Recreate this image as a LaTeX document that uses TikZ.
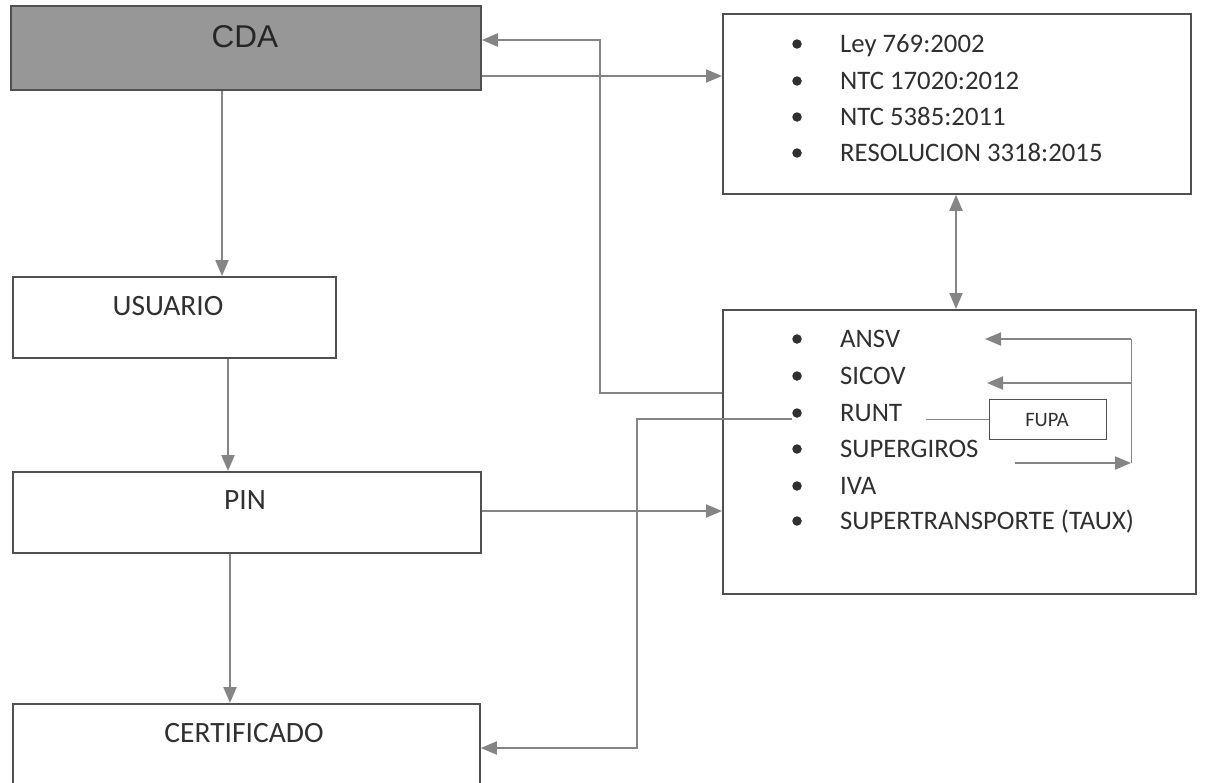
\documentclass[tikz,border=0pt]{standalone}
\usepackage{fontspec}
\setmainfont{Carlito}
\newfontfamily\arialf{Liberation Sans}
\usetikzlibrary{arrows.meta}
\definecolor{lineg}{HTML}{858585}
\definecolor{boxg}{HTML}{505050}
\definecolor{cdafill}{HTML}{979797}
\definecolor{txt}{HTML}{303030}
\tikzset{
  box/.style={draw=boxg, line width=1.8pt, rectangle, inner sep=0pt, anchor=north west},
  conn/.style={draw=lineg, line width=2pt, -{Triangle[length=16pt,width=13pt]}},
  biconn/.style={draw=lineg, line width=2pt, {Triangle[length=16pt,width=13pt]}-{Triangle[length=16pt,width=13pt]}},
  plainline/.style={draw=lineg, line width=2pt},
  thinline/.style={draw=lineg, line width=1pt},
  lbl/.style={font=\fontsize{29.5}{35}\selectfont, text=txt, inner sep=0pt},
  item/.style={font=\fontsize{26.7}{32}\selectfont, text=txt, inner sep=0pt, anchor=base west},
  bul/.style={circle, fill=txt, inner sep=0pt, minimum size=9.5pt},
}
\begin{document}
\begin{tikzpicture}[x=1pt,y=-1pt]
\useasboundingbox (0,0) rectangle (1225,782);
\clip (0,0) rectangle (1225,782);
\fill[white] (0,0) rectangle (1225,782);

% boxes
\node[box, fill=cdafill, minimum width=470pt, minimum height=84pt] (cda) at (10,5) {};
\node[font=\arialf\fontsize{31.5}{36}\selectfont, text=black!85, inner sep=0pt] (cdaT) at (245,37) {CDA};

\node[box, minimum width=323pt, minimum height=81pt] (usuario) at (12,276) {};
\node[lbl] (usuarioT) at (168,306) {USUARIO};

\node[box, minimum width=468pt, minimum height=81pt] (pin) at (12,471) {};
\node[lbl] (pinT) at (245,500) {PIN};

\node[box, minimum width=467pt, minimum height=110pt] (cert) at (12,703) {};
\node[lbl] (certT) at (244,733) {CERTIFICADO};

\node[box, minimum width=468pt, minimum height=180pt] (norm) at (722,13) {};
\node[box, minimum width=473pt, minimum height=284pt] (ent) at (722,309) {};
\node[box, line width=1.4pt, minimum width=117pt, minimum height=40pt] (fupa) at (989,399) {};
\node[font=\fontsize{20.5}{24}\selectfont, text=txt, inner sep=0pt] (fupaT) at (1047,420) {FUPA};

% norm list
\node[bul] (nb1) at (797,44) {};  \node[item] (n1) at (840,52.5)  {Ley 769:2002};
\node[bul] (nb2) at (797,81) {};  \node[item] (n2) at (840,89.5)  {NTC 17020:2012};
\node[bul] (nb3) at (797,117) {}; \node[item] (n3) at (840,125.5) {NTC 5385:2011};
\node[bul] (nb4) at (797,153) {}; \node[item] (n4) at (840,161.5) {RESOLUCION 3318:2015};

% entities list
\node[bul] (eb1) at (797,339) {}; \node[item] (e1) at (840,347.5) {ANSV};
\node[bul] (eb2) at (797,376) {}; \node[item] (e2) at (840,384.5) {SICOV};
\node[bul] (eb3) at (797,413) {}; \node[item] (e3) at (840,421.5) {RUNT};
\node[bul] (eb4) at (797,449) {}; \node[item] (e4) at (840,457.5) {SUPERGIROS};
\node[bul] (eb5) at (797,486) {}; \node[item] (e5) at (840,494.5) {IVA};
\node[bul] (eb6) at (797,521) {}; \node[item] (e6) at (840,529.5) {SUPERTRANSPORTE (TAUX)};

% coordinates
\coordinate (x1) at (222,0);
\coordinate (x2) at (228,0);
\coordinate (x3) at (230,0);
\coordinate (yPin) at (0,511);
\coordinate (yOut) at (0,76);
\coordinate (j1) at (600,393);
\coordinate (j2) at (600,40);
\coordinate (xd) at (956,0);
\coordinate (r1) at (637,419);
\coordinate (r2) at (637,748);
\coordinate (f0) at (926,419);
\coordinate (a1) at (1131,339);
\coordinate (a2) at (1131,383);
\coordinate (a3) at (1131,463);
\coordinate (t1) at (985,339);
\coordinate (t2) at (987,383);
\coordinate (s1) at (1015,463);

% connectors
\draw[conn] (cda.south -| x1) -- (usuario.north -| x1);
\draw[conn] (usuario.south -| x2) -- (pin.north -| x2);
\draw[conn] (pin.south -| x3) -- (cert.north -| x3);
\draw[conn] (pin.east |- yPin) -- (ent.west |- yPin);
\draw[conn] (cda.east |- yOut) -- (norm.west |- yOut);
\draw[conn] (ent.west |- j1) -- (j1) -- (j2) -- (cda.east |- j2);
\draw[biconn] (norm.south -| xd) -- (ent.north -| xd);
\draw[conn] (eb3.west |- r1) -- (r1) -- (r2) -- (cert.east |- r2);
\draw[thinline] (f0) -- (fupa.west |- f0);
\draw[thinline] (a1) -- (a3);
\draw[conn] (a1) -- (t1);
\draw[conn] (a2) -- (t2);
\draw[conn] (s1) -- (a3);
\end{tikzpicture}
\end{document}
